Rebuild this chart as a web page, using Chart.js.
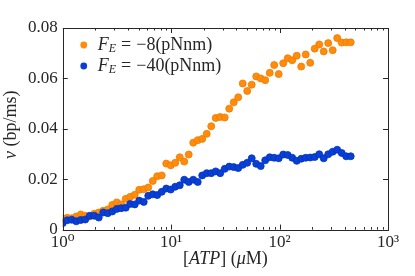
<!DOCTYPE html>
<html>
<head>
<meta charset="utf-8">
<script src="https://cdn.jsdelivr.net/npm/chart.js@4.4.1/dist/chart.umd.min.js"></script>
<style>
body { margin: 0; background: #fff; }
canvas { display: block; }
</style>
</head>
<body>
<canvas id="atpChart" width="415" height="276"></canvas>
<script>
// ATP concentration (uM), log spaced
var atp = [1.000, 1.100, 1.211, 1.332, 1.466, 1.613, 1.775, 1.953, 2.149, 2.364,
	2.600, 2.861, 3.148, 3.464, 3.811, 4.193, 4.613, 5.076, 5.585, 6.145,
	6.761, 7.439, 8.185, 9.006, 9.908, 10.90, 12.00, 13.20, 14.52, 15.98,
	17.58, 19.34, 21.28, 23.42, 25.76, 28.35, 31.19, 34.32, 37.76, 41.55,
	45.71, 50.29, 55.34, 60.88, 66.99, 73.71, 81.10, 89.23, 98.17, 108.0,
	118.9, 130.8, 143.9, 158.3, 174.2, 191.7, 210.9, 232.0, 255.3, 280.9,
	309.0, 340.0, 374.1, 411.6, 452.9];

// velocity for F_E = -8 pNnm
var vLow = [0.0043, 0.0047, 0.0045, 0.0052, 0.0060, 0.0055, 0.0052, 0.0063, 0.0068, 0.0075,
	0.0080, 0.0098, 0.0108, 0.0100, 0.0122, 0.0130, 0.0138, 0.0158, 0.0160, 0.0167,
	0.0193, 0.0212, 0.0215, 0.0262, 0.0255, 0.0265, 0.0287, 0.0270, 0.0298, 0.0345,
	0.0355, 0.0360, 0.0380, 0.0410, 0.0443, 0.0447, 0.0445, 0.0480, 0.0505, 0.0525,
	0.0580, 0.0550, 0.0575, 0.0608, 0.0600, 0.0593, 0.0622, 0.0653, 0.0617, 0.0660,
	0.0680, 0.0672, 0.0690, 0.0647, 0.0695, 0.0662, 0.0718, 0.0735, 0.0707, 0.0740,
	0.0712, 0.0760, 0.0742, 0.0743, 0.0743];

// velocity for F_E = -40 pNnm
var vHigh = [0.0026, 0.0037, 0.0039, 0.0033, 0.0038, 0.0040, 0.0055, 0.0055, 0.0048, 0.0068,
	0.0065, 0.0072, 0.0082, 0.0085, 0.0087, 0.0102, 0.0100, 0.0115, 0.0110, 0.0134,
	0.0140, 0.0137, 0.0150, 0.0163, 0.0159, 0.0170, 0.0176, 0.0198, 0.0189, 0.0198,
	0.0189, 0.0215, 0.0224, 0.0224, 0.0231, 0.0224, 0.0241, 0.0250, 0.0248, 0.0244,
	0.0257, 0.0265, 0.0283, 0.0261, 0.0252, 0.0275, 0.0287, 0.0285, 0.0283, 0.0298,
	0.0296, 0.0285, 0.0273, 0.0281, 0.0285, 0.0286, 0.0288, 0.0299, 0.0283, 0.0299,
	0.0309, 0.0317, 0.0304, 0.0291, 0.0291];

var xTicks = [1, 10, 100, 1000];
var xTickLabels = ['10\u2070', '10\u00b9', '10\u00b2', '10\u00b3'];
var yTicks = [0, 0.02, 0.04, 0.06, 0.08];
var yTickLabels = ['0', '0.02', '0.04', '0.06', '0.08'];

var legendLabels = [{ value: '\u22128', color: '#ff8c0a', edge: '#f27a00' },
	{ value: '\u221240', color: '#0a3fd6', edge: '#0033bb' }];

var serif = "'Liberation Serif', 'DejaVu Serif', serif";
var ink = '#262626';

function toPoints(xs, ys) {
	var pts = [];
	for (var i = 0; i < xs.length; i++) {
		pts.push({ x: xs[i], y: ys[i] });
	}
	return pts;
}

// ticks pointing inward on all four sides + box
var framePlugin = {
	id: 'frame',
	afterDraw: function(chart) {
		var ctx = chart.ctx;
		var a = chart.chartArea;
		var xs = chart.scales.x;
		var ys = chart.scales.y;
		ctx.save();
		ctx.strokeStyle = ink;
		ctx.lineWidth = 1;
		ctx.strokeRect(Math.round(a.left) + 0.5, Math.round(a.top) + 0.5,
			Math.round(a.right - a.left), Math.round(a.bottom - a.top));
		ctx.beginPath();
		for (var d = 1; d < 1000; d *= 10) {
			for (var m = 1; m < 10; m++) {
				var px = Math.round(xs.getPixelForValue(d * m)) + 0.5;
				var len = m == 1 ? 5 : 2.5;
				ctx.moveTo(px, a.bottom);
				ctx.lineTo(px, a.bottom - len);
				ctx.moveTo(px, a.top);
				ctx.lineTo(px, a.top + len);
			}
		}
		for (var i = 0; i < yTicks.length; i++) {
			var py = Math.round(ys.getPixelForValue(yTicks[i])) + 0.5;
			ctx.moveTo(a.left, py);
			ctx.lineTo(a.left + 5, py);
			ctx.moveTo(a.right, py);
			ctx.lineTo(a.right - 5, py);
		}
		ctx.stroke();

		// axis titles with italic math parts
		ctx.fillStyle = ink;
		ctx.textBaseline = 'middle';
		drawRuns(ctx, [['[', false], ['ATP', true], ['] (', false], ['\u03bc', true], ['M)', false]],
			(a.left + a.right) / 2, 259, 18);
		ctx.save();
		ctx.translate(11, (a.top + a.bottom) / 2 - 4);
		ctx.rotate(-Math.PI / 2);
		drawRuns(ctx, [['v', true], [' (bp/ms)', false]], 0, 0, 18);
		ctx.restore();

		// legend
		for (var k = 0; k < legendLabels.length; k++) {
			var ly = a.top + 17 + k * 21;
			var lx = a.left + 21;
			ctx.beginPath();
			ctx.arc(lx, ly, 3.4, 0, Math.PI * 2);
			ctx.fillStyle = legendLabels[k].color;
			ctx.fill();
			ctx.fillStyle = ink;
			ctx.textAlign = 'left';
			var tx = lx + 14;
			ctx.font = 'italic 18px ' + serif;
			ctx.fillText('F', tx, ly);
			tx += ctx.measureText('F').width;
			ctx.font = 'italic 12px ' + serif;
			ctx.fillText('E', tx, ly + 4);
			tx += ctx.measureText('E').width + 5;
			ctx.font = '18px ' + serif;
			ctx.fillText('=', tx, ly);
			tx += ctx.measureText('=').width + 5;
			ctx.fillText(legendLabels[k].value + '(pNnm)', tx, ly);
		}
		ctx.restore();
	}
};

// draws text runs centred on (cx, cy), italic flag per run
function drawRuns(ctx, runs, cx, cy, size) {
	var total = 0;
	var i;
	for (i = 0; i < runs.length; i++) {
		ctx.font = (runs[i][1] ? 'italic ' : '') + size + 'px ' + serif;
		total += ctx.measureText(runs[i][0]).width;
	}
	var x = cx - total / 2;
	ctx.textAlign = 'left';
	for (i = 0; i < runs.length; i++) {
		ctx.font = (runs[i][1] ? 'italic ' : '') + size + 'px ' + serif;
		ctx.fillText(runs[i][0], x, cy);
		x += ctx.measureText(runs[i][0]).width;
	}
}

var ctx = document.getElementById('atpChart').getContext('2d');
var atpChart = new Chart(ctx, {
	type: 'scatter',
	data: {
		datasets: [{
			label: 'F_E = -8(pNnm)',
			data: toPoints(atp, vLow),
			backgroundColor: legendLabels[0].color,
			borderColor: legendLabels[0].edge,
			borderWidth: 0.8,
			pointRadius: 3.5,
			order: 1
		}, {
			label: 'F_E = -40(pNnm)',
			data: toPoints(atp, vHigh),
			backgroundColor: legendLabels[1].color,
			borderColor: legendLabels[1].edge,
			borderWidth: 0.8,
			pointRadius: 3.5,
			order: 0
		}]
	},
	options: {
		responsive: false,
		animation: false,
		devicePixelRatio: 1,
		layout: { padding: { left: 23, right: 27, top: 28, bottom: 20 } },
		plugins: {
			legend: { display: false },
			tooltip: { enabled: false }
		},
		scales: {
			x: {
				type: 'logarithmic',
				min: 1,
				max: 1000,
				grid: { display: false, drawTicks: false },
				border: { display: false },
				afterBuildTicks: function(scale) {
					scale.ticks = xTicks.map(function(v) { return { value: v }; });
				},
				ticks: {
					autoSkip: false,
					maxRotation: 0,
					padding: 3,
					color: ink,
					font: { family: serif, size: 17 },
					callback: function(value) {
						return xTickLabels[xTicks.indexOf(value)];
					}
				}
			},
			y: {
				min: 0,
				max: 0.08,
				grid: { display: false, drawTicks: false },
				border: { display: false },
				afterBuildTicks: function(scale) {
					scale.ticks = yTicks.map(function(v) { return { value: v }; });
				},
				ticks: {
					padding: 5,
					color: ink,
					font: { family: serif, size: 17 },
					callback: function(value) {
						return yTickLabels[yTicks.indexOf(value)];
					}
				}
			}
		}
	},
	plugins: [framePlugin]
});
</script>
</body>
</html>
